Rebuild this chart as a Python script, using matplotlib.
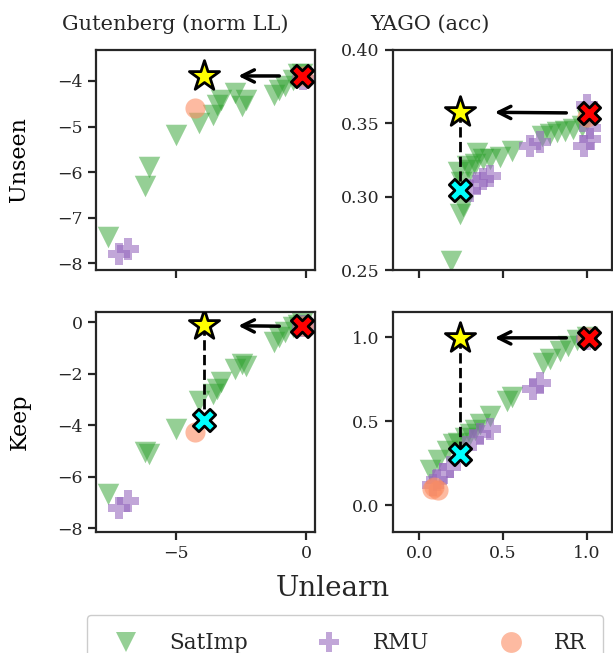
import matplotlib
matplotlib.use('Agg')
import matplotlib.pyplot as plt
from matplotlib.lines import Line2D

# ---- data ----
# Gutenberg (norm LL)
gut_sat_x = [-7.65, -6.05, -6.2, -5.02, -4.12, -3.6, -3.45, -3.28, -2.75, -2.46, -2.3,
             -1.23, -1.05, -0.8, -0.5, -0.3, -0.15]
gut_sat_unseen = [-7.43, -5.88, -6.31, -5.19, -4.93, -4.75, -4.53, -4.42, -4.27, -4.56, -4.42,
                  -4.31, -4.2, -4.12, -3.98, -3.85, -3.85]
gut_sat_keep = [-6.68, -5.12, -5.05, -4.15, -3.05, -2.79, -2.59, -2.33, -1.81, -1.62, -1.7,
                -0.78, -0.58, -0.39, -0.2, -0.1, -0.05]
gut_rmu_x = [-6.87, -7.2, -0.1]
gut_rmu_unseen = [-7.68, -7.79, -3.95]
gut_rmu_keep = [-6.94, -7.2, -0.15]
gut_rr_x = [-4.28, -0.1]
gut_rr_unseen = [-4.6, -3.9]
gut_rr_keep = [-4.28, -0.15]
gut_star = (-3.95, -3.89, -0.13)      # x, unseen, keep
gut_orig = (-0.17, -3.89, -0.17)
gut_cyan_keep = (-3.95, -3.82)

# YAGO (acc)
yago_sat_unseen_x = [0.19, 0.243, 0.263, 0.233, 0.283, 0.343, 0.382, 0.33, 0.42, 0.482, 0.552,
                     0.731, 0.78, 0.82, 0.87, 0.92, 0.97, 1.0, 0.25, 0.3]
yago_sat_unseen = [0.256, 0.288, 0.2935, 0.3165, 0.321, 0.33, 0.3256, 0.322, 0.3256, 0.3268, 0.3313,
                   0.3416, 0.3428, 0.344, 0.345, 0.346, 0.348, 0.352, 0.31, 0.318]
yago_rmu_unseen_x = [0.303, 0.343, 0.382, 0.422, 0.661, 0.721, 0.98, 1.02, 1.02, 1.0]
yago_rmu_unseen = [0.304, 0.3096, 0.3119, 0.3142, 0.3348, 0.337, 0.3348, 0.339, 0.347, 0.3622]
yago_rr_unseen_x = [1.0]
yago_rr_unseen = [0.354]

yago_sat_keep_x = [0.064, 0.114, 0.164, 0.203, 0.23, 0.27, 0.303, 0.33, 0.363, 0.422, 0.522, 0.552,
                   0.741, 0.78, 0.84, 0.89, 0.94, 1.0]
yago_sat_keep = [0.207, 0.266, 0.325, 0.365, 0.37, 0.4, 0.424, 0.45, 0.483, 0.533, 0.621, 0.641,
                 0.848, 0.868, 0.917, 0.947, 0.986, 1.0]
yago_rmu_keep_x = [0.08, 0.104, 0.143, 0.183, 0.323, 0.363, 0.422, 0.681, 0.721, 1.0]
yago_rmu_keep = [0.12, 0.148, 0.188, 0.227, 0.385, 0.424, 0.454, 0.69, 0.73, 0.99]
yago_rr_keep_x = [0.074, 0.114, 0.09, 1.0]
yago_rr_keep = [0.099, 0.089, 0.11, 1.0]
yago_star = (0.243, 0.3577, 0.996)
yago_orig = (1.01, 0.357, 0.996)
yago_cyan = (0.243, 0.3045, 0.302)

methods = ['SatImp', 'RMU', 'RR']
colors = {'SatImp': '#2ca02c', 'RMU': '#9467bd', 'RR': '#fc8d62'}
alphas = {'SatImp': 0.5, 'RMU': 0.58, 'RR': 0.6}
markers = {'SatImp': 'v', 'RMU': 'P', 'RR': 'o'}
sizes = {'SatImp': 240, 'RMU': 230, 'RR': 210}

plt.rcParams.update({
    'font.family': 'DejaVu Serif',
    'axes.edgecolor': '.15',
    'axes.linewidth': 1.6,
    'xtick.color': '.15',
    'ytick.color': '.15',
    'text.color': '.15',
    'xtick.major.size': 6,
    'ytick.major.size': 6,
    'xtick.major.width': 1.6,
    'ytick.major.width': 1.6,
    'xtick.labelsize': 12.5,
    'ytick.labelsize': 12.5,
})

W, H = 613, 653
fig = plt.figure(figsize=(W / 100, H / 100), dpi=100)

def box(x0, y0, x1, y1):
    return [x0 / W, 1 - y1 / H, (x1 - x0) / W, (y1 - y0) / H]

ax_tl = fig.add_axes(box(96, 50, 315, 270))
ax_tr = fig.add_axes(box(393, 50, 612, 270))
ax_bl = fig.add_axes(box(96, 312, 315, 532), sharex=ax_tl)
ax_br = fig.add_axes(box(393, 312, 612, 532), sharex=ax_tr)


def draw(ax, pts, star, orig, cyan=None):
    for m in methods:
        xs, ys = pts[m]
        ax.scatter(xs, ys, marker=markers[m], s=sizes[m], color=colors[m],
                   alpha=alphas[m], linewidths=0, zorder=2)
    if cyan is not None:
        ax.plot([star[0], cyan[0]], [star[1], cyan[1]], 'k--', lw=2, zorder=3)
        ax.scatter([cyan[0]], [cyan[1]], marker='X', s=260, color='cyan',
                   edgecolors='k', linewidths=2, zorder=6)
    ax.annotate('', xy=star, xytext=orig,
                arrowprops=dict(arrowstyle='->', lw=2.5, color='k',
                                shrinkA=16, shrinkB=25, mutation_scale=22),
                zorder=4)
    ax.scatter([star[0]], [star[1]], marker='*', s=520, color='yellow',
               edgecolors='k', linewidths=2, zorder=6)
    ax.scatter([orig[0]], [orig[1]], marker='X', s=260, color='red',
               edgecolors='k', linewidths=2, zorder=6)


draw(ax_tl, {'SatImp': (gut_sat_x, gut_sat_unseen), 'RMU': (gut_rmu_x, gut_rmu_unseen),
             'RR': (gut_rr_x, gut_rr_unseen)},
     (gut_star[0], gut_star[1]), (gut_orig[0], gut_orig[1]))
draw(ax_bl, {'SatImp': (gut_sat_x, gut_sat_keep), 'RMU': (gut_rmu_x, gut_rmu_keep),
             'RR': (gut_rr_x, gut_rr_keep)},
     (gut_star[0], gut_star[2]), (gut_orig[0], gut_orig[2]), gut_cyan_keep)
draw(ax_tr, {'SatImp': (yago_sat_unseen_x, yago_sat_unseen), 'RMU': (yago_rmu_unseen_x, yago_rmu_unseen),
             'RR': (yago_rr_unseen_x, yago_rr_unseen)},
     (yago_star[0], yago_star[1]), (yago_orig[0], yago_orig[1]), (yago_cyan[0], yago_cyan[1]))
draw(ax_br, {'SatImp': (yago_sat_keep_x, yago_sat_keep), 'RMU': (yago_rmu_keep_x, yago_rmu_keep),
             'RR': (yago_rr_keep_x, yago_rr_keep)},
     (yago_star[0], yago_star[2]), (yago_orig[0], yago_orig[2]), (yago_cyan[0], yago_cyan[2]))

ax_tl.set_xlim(-8.1, 0.35)
ax_tl.set_ylim(-8.15, -3.32)
ax_tl.set_yticks([-8, -7, -6, -5, -4])
ax_bl.set_ylim(-8.15, 0.39)
ax_bl.set_yticks([-8, -6, -4, -2, 0])
ax_bl.set_xticks([-5, 0])
ax_tr.set_xlim(-0.157, 1.15)
ax_tr.set_ylim(0.25, 0.40)
ax_tr.set_yticks([0.25, 0.30, 0.35, 0.40])
ax_tr.set_yticklabels(['0.25', '0.30', '0.35', '0.40'])
ax_br.set_ylim(-0.16, 1.15)
ax_br.set_yticks([0.0, 0.5, 1.0])
ax_br.set_xticks([0.0, 0.5, 1.0])
for ax in (ax_tl, ax_tr):
    ax.tick_params(labelbottom=False)

ax_tl.set_ylabel('Unseen', fontsize=16)
ax_bl.set_ylabel('Keep', fontsize=16)
ax_tl.yaxis.set_label_coords(-0.3, 0.5)
ax_bl.yaxis.set_label_coords(-0.3, 0.5)

fig.text(175 / W, 1 - 24 / H, 'Gutenberg (norm LL)', fontsize=15, ha='center', va='center')
fig.text(430 / W, 1 - 24 / H, 'YAGO (acc)', fontsize=15, ha='center', va='center')
fig.text(333 / W, 1 - 588 / H, 'Unlearn', fontsize=20, ha='center', va='center')

handles = [Line2D([], [], marker=markers[m], linestyle='', markersize=15,
                  markerfacecolor=colors[m], markeredgewidth=0, alpha=alphas[m])
           for m in methods]
fig.legend(handles, methods, loc='upper left', bbox_to_anchor=(87 / W, 1 - 615 / H),
           ncol=3, fontsize=15.5, frameon=True, edgecolor='0.8', framealpha=1,
           handletextpad=1.0, columnspacing=2.8, borderpad=0.8, borderaxespad=0)

fig.savefig('out.png', dpi=100)
